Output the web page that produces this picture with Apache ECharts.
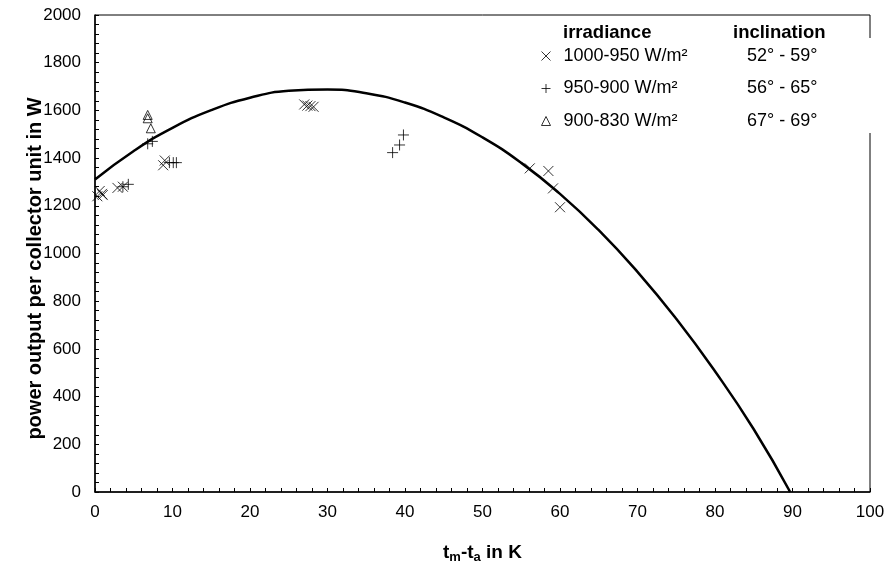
<!DOCTYPE html>
<html><head><meta charset="utf-8">
<script src="https://cdn.jsdelivr.net/npm/echarts@6/dist/echarts.min.js"></script>
<style>html,body{margin:0;padding:0;background:#fff}#c{width:888px;height:565px}</style>
</head><body><div id="c"></div>
<script>
// series names and inclinations
const seriesNames = ['1000-950 W/m²', '950-900 W/m²', '900-830 W/m²'];
const inclinations = ['52° - 59°', '56° - 65°', '67° - 69°'];
// 1000-950 W/m² (x markers)
const s1x = [0.3, 0.6, 0.9, 1.0, 2.9, 3.6, 8.8, 9.0, 27.0, 27.4, 27.8, 28.2, 56.1, 58.5, 59.1, 60.0];
const s1y = [1240, 1262, 1250, 1245, 1275, 1280, 1370, 1390, 1625, 1620, 1618, 1615, 1357, 1346, 1273, 1194];
// 950-900 W/m² (+ markers)
const s2x = [3.6, 4.3, 6.8, 7.4, 9.6, 10.1, 10.5, 38.4, 39.3, 39.8];
const s2y = [1280, 1290, 1460, 1470, 1381, 1381, 1381, 1423, 1455, 1497];
// 900-830 W/m² (triangles)
const s3x = [6.8, 6.8, 7.2];
const s3y = [1581, 1567, 1525];
// fitted curve
const curveX = [0, 5, 10, 15, 20, 25, 30, 35, 40, 45, 50, 55, 60, 65, 70, 75, 80, 85, 89.7];
const curveY = [1310, 1430, 1527, 1601, 1653, 1682, 1688, 1672, 1633, 1571, 1487, 1380, 1250, 1098, 923, 726, 506, 263, 0];

const zip = (a, b) => a.map((v, i) => [v, b[i]]);
const crossSym = 'path://M0,0L10,10M10,0L0,10';
const plusSym = 'path://M5,0L5,10M0,5L10,5';
const markerStyle = {color: 'rgba(0,0,0,0)', borderColor: '#000', borderWidth: 1};
const F = 'Liberation Sans, Arial, Helvetica, sans-serif';

const chart = echarts.init(document.getElementById('c'), null, {renderer: 'canvas'});
chart.setOption({
  animation: false,
  backgroundColor: '#fff',
  textStyle: {fontFamily: F, color: '#000'},
  grid: {left: 95, right: 18, top: 15, bottom: 73, show: true, borderColor: '#000', borderWidth: 1,
         containLabel: false, outerBoundsMode: 'none'},
  xAxis: {
    type: 'value', min: 0, max: 100, interval: 10,
    axisLine: {lineStyle: {color: '#000', width: 1.5}},
    axisTick: {inside: true, length: 4, lineStyle: {color: '#000'}},
    minorTick: {show: true, splitNumber: 5, length: 4, lineStyle: {color: '#000'}},
    splitLine: {show: false},
    axisLabel: {fontSize: 17, color: '#000', margin: 12, fontFamily: F},
    name: '{b|t}{s|m}{b|-t}{s|a}{b| in K}',
    nameLocation: 'middle', nameGap: 50,
    nameTextStyle: {
      rich: {
        b: {fontSize: 19, fontWeight: 'bold', color: '#000', fontFamily: F},
        s: {fontSize: 13, fontWeight: 'bold', color: '#000', fontFamily: F, padding: [9, 0, 0, 0]}
      }
    }
  },
  yAxis: {
    type: 'value', min: 0, max: 2000, interval: 200,
    axisLine: {show: true, lineStyle: {color: '#000', width: 1.5}},
    axisTick: {show: true, inside: true, length: 4, lineStyle: {color: '#000'}},
    minorTick: {show: true, splitNumber: 5, length: 4, lineStyle: {color: '#000'}},
    splitLine: {show: false},
    axisLabel: {fontSize: 17, color: '#000', margin: 14, fontFamily: F, formatter: v => String(v)},
    name: 'power output per collector unit in W',
    nameLocation: 'middle', nameGap: 50, nameMoveOverlap: false,
    nameTextStyle: {fontSize: 20, fontWeight: 'bold', color: '#000', fontFamily: F, padding: [0, 30, 0, 0]}
  },
  legend: {
    orient: 'vertical', left: 536, top: 42, itemWidth: 9, itemHeight: 9, itemGap: 14.5,
    selectedMode: false,
    data: seriesNames.map(n => ({name: n, itemStyle: markerStyle})),
    formatter: name => '{a|' + name + '}{b|' + inclinations[seriesNames.indexOf(name)] + '}',
    textStyle: {
      fontSize: 18, color: '#000', fontFamily: F,
      rich: {
        a: {fontSize: 18, width: 152, padding: [0, 0, 0, 8], lineHeight: 20, fontFamily: F, color: '#000'},
        b: {fontSize: 18, width: 102, align: 'right', lineHeight: 20, fontFamily: F, color: '#000'}
      }
    }
  },
  graphic: [
    {type: 'rect', shape: {x: 862, y: 38, width: 14, height: 95}, style: {fill: '#fff'}, z: 100},
    {type: 'text', left: 563, top: 23, style: {text: 'irradiance', font: 'bold 18.5px ' + F, fill: '#000'}, z: 101},
    {type: 'text', left: 733, top: 23, style: {text: 'inclination', font: 'bold 18.5px ' + F, fill: '#000'}, z: 101}
  ],
  series: [
    {name: seriesNames[0], type: 'scatter', symbol: crossSym, symbolSize: 10, itemStyle: markerStyle, data: zip(s1x, s1y), z: 3},
    {name: seriesNames[1], type: 'scatter', symbol: plusSym, symbolSize: 11, itemStyle: markerStyle, data: zip(s2x, s2y), z: 3},
    {name: seriesNames[2], type: 'scatter', symbol: 'triangle', symbolSize: 9, itemStyle: markerStyle, data: zip(s3x, s3y), z: 3},
    {name: 'fit', type: 'line', smooth: true, symbol: 'none', lineStyle: {color: '#000', width: 2.5}, data: zip(curveX, curveY), z: 2}
  ]
});
</script>
</body></html>
